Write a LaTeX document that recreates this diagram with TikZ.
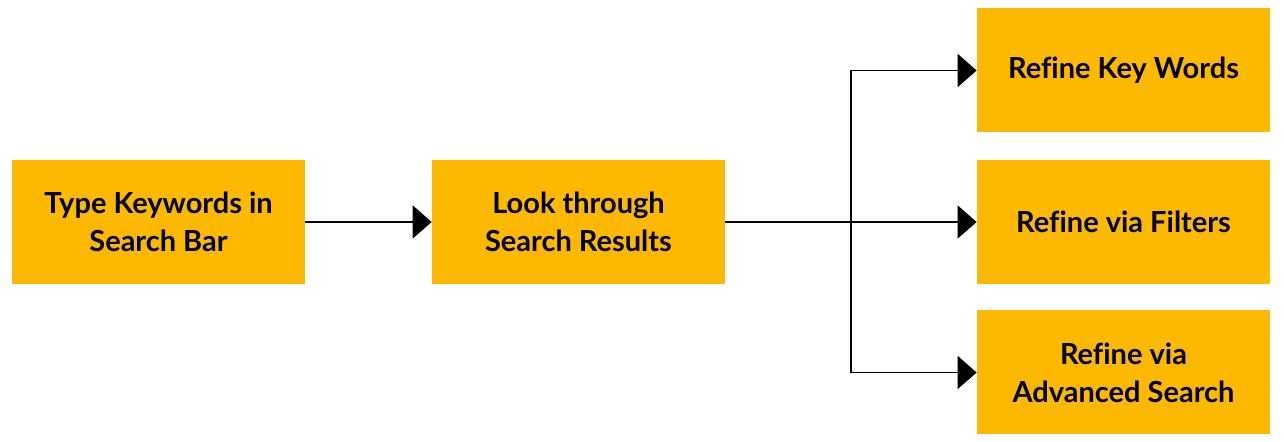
\documentclass[tikz,border=0pt]{standalone}
\usepackage{fontspec}
\setmainfont{Lato}[Ligatures=NoCommon]
\usepackage{xcolor}
\usepackage{tikz}
\usetikzlibrary{arrows.meta, positioning}
\definecolor{boxyellow}{RGB}{253,184,0}
\tikzstyle{arrow} = [-{Triangle[length=0.38cm, width=0.66cm]}, line width=0.8pt, draw=black]
\tikzstyle{stepbox} = [rectangle, fill=boxyellow, minimum width=5.86cm, minimum height=2.48cm, text centered, align=center, font=\fontsize{16.5}{21.5}\selectfont\bfseries]

\begin{document}
\begin{tikzpicture}
  \useasboundingbox (0, 0) rectangle (25.68, 8.84);

  % First Column
  \node[stepbox] (type) at (3.17, 4.40) {Type Keywords in\\Search Bar};

  % Second Column
  \node[stepbox] (look) at (11.57, 4.40) {Look through\\Search Results};

  \draw[arrow] (type) -- (look);

  % Third Column
  \node[stepbox] (keywords) at (22.47, 7.43) {Refine Key Words};
  \node[stepbox] (filters) at (22.47, 4.40) {Refine via Filters};
  \node[stepbox] (advanced) at (22.47, 1.39) {Refine via\\Advanced Search};

  \coordinate (split) at (17.02, 4.40);

  \draw[arrow] (look) -- (filters);
  \draw[arrow] (split) |- (keywords);
  \draw[arrow] (split) |- (advanced);

\end{tikzpicture}
\end{document}
